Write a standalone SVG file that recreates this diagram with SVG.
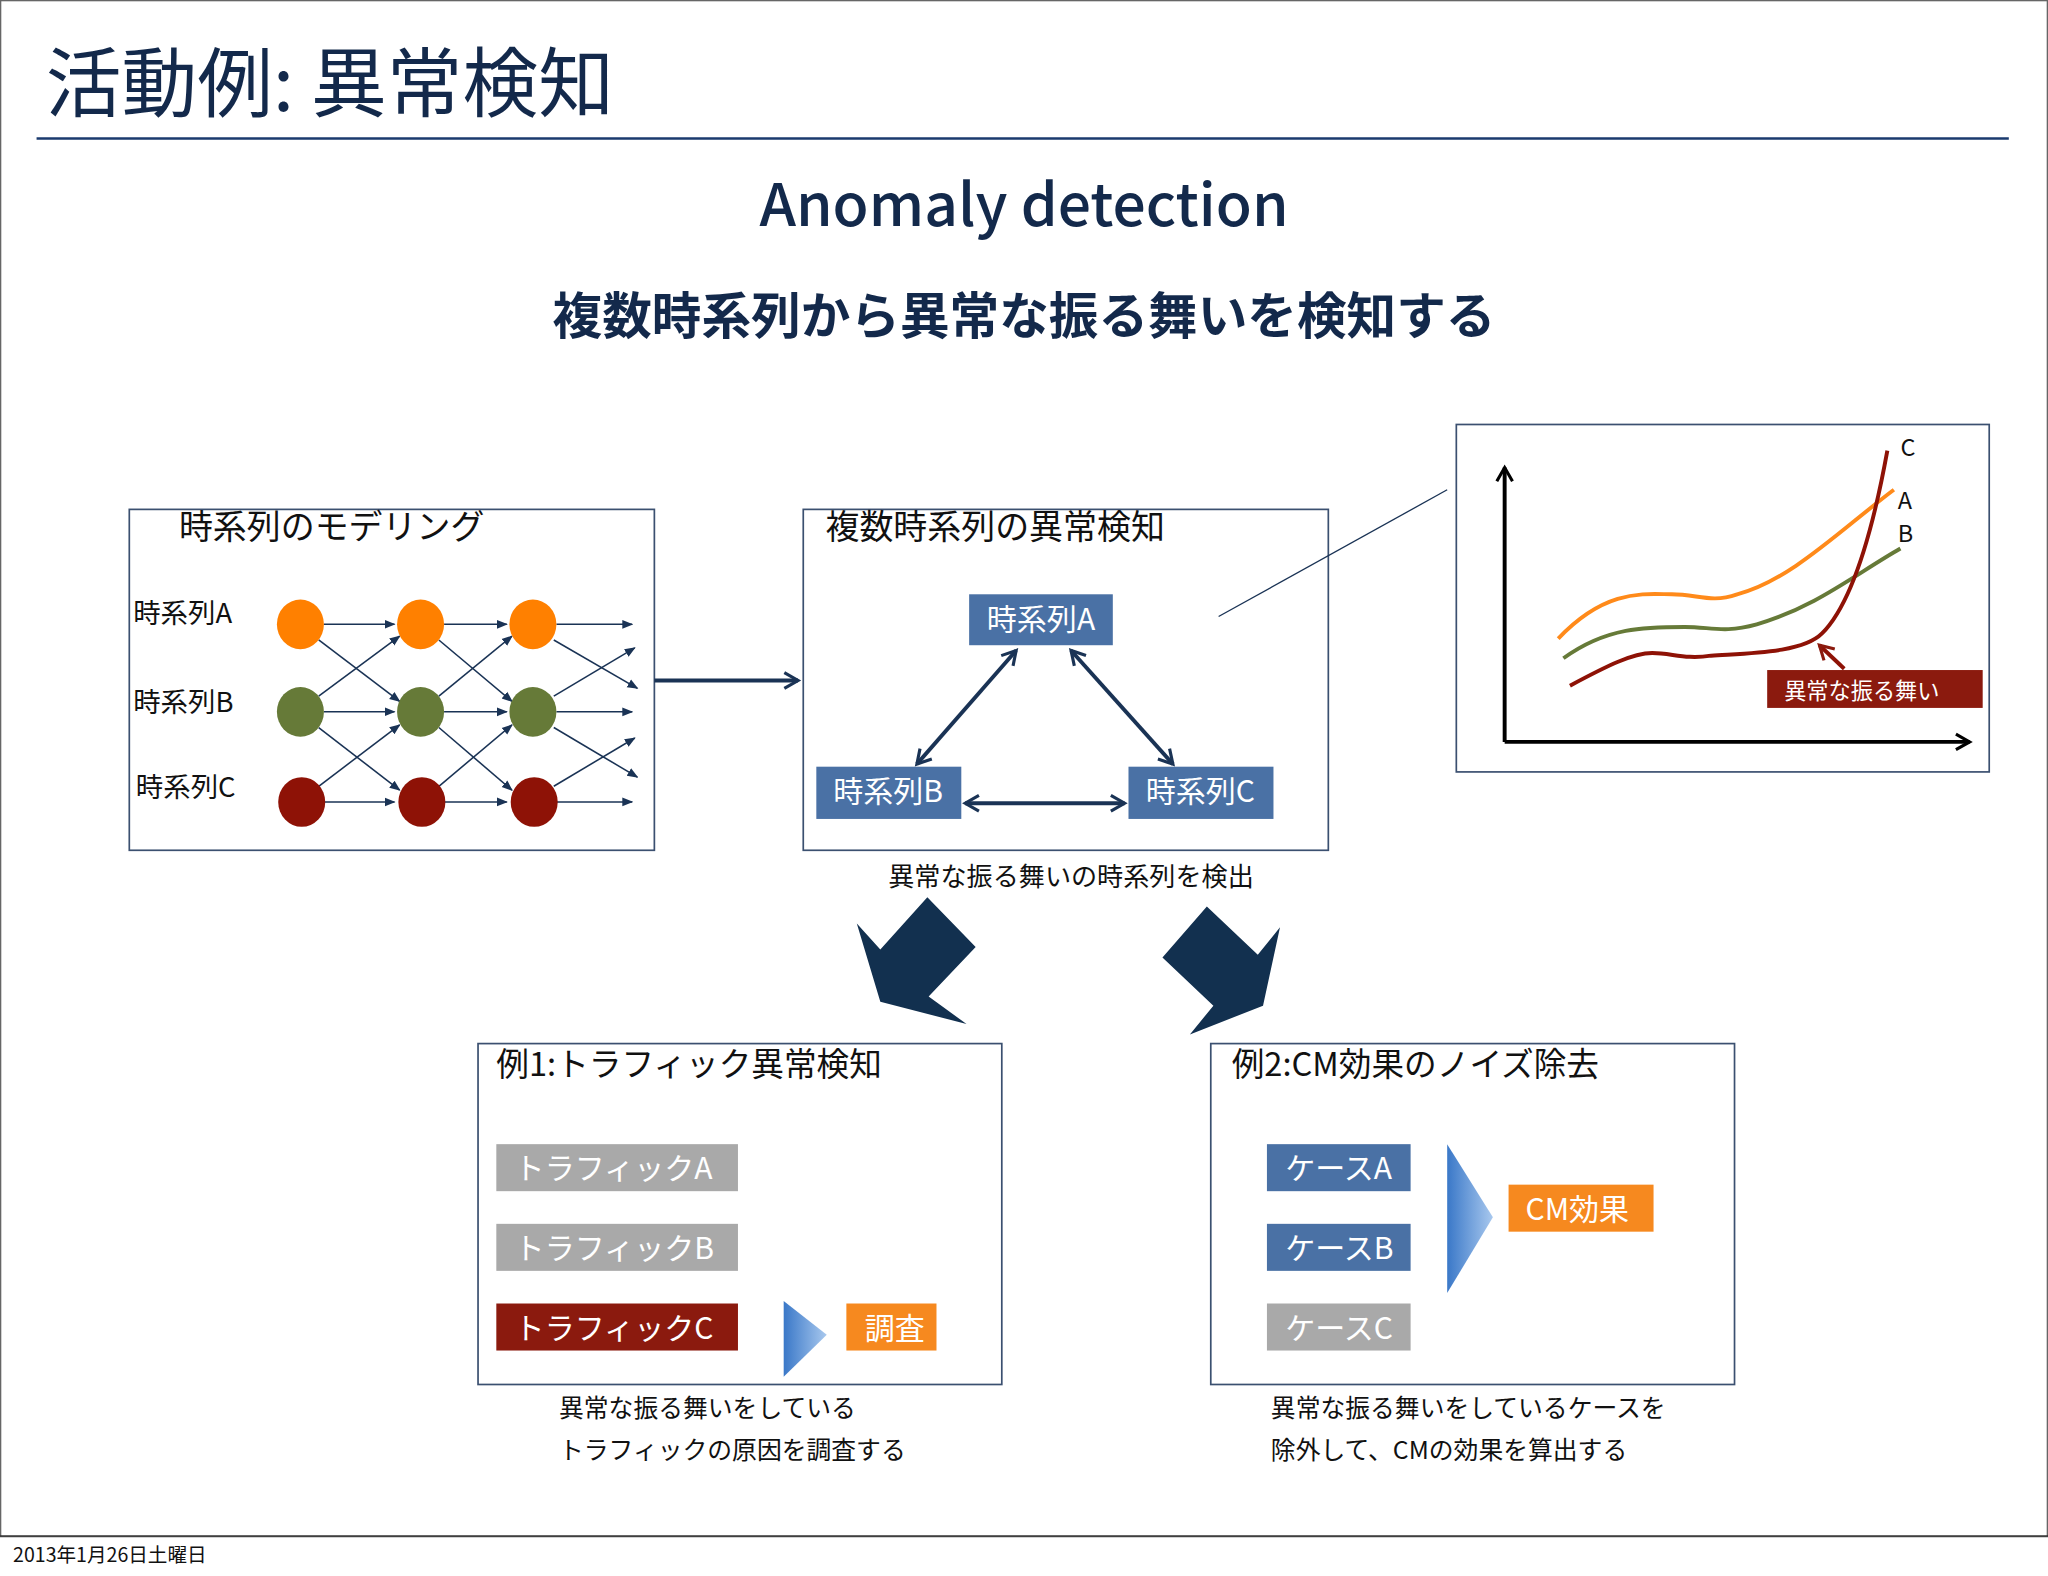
<svg xmlns="http://www.w3.org/2000/svg" width="2048" height="1576" viewBox="0 0 2048 1576">
<defs>
<style>
text{font-family:"Noto Sans CJK JP","Noto Sans",sans-serif}
.box{fill:#fff;stroke:#3b5070;stroke-width:1.3}
.lbl{font-size:21px;fill:#111}
.nd{fill:#4a71a5}
.nt{font-size:23px;fill:#fff;text-anchor:middle}
.ln{stroke:#1a3355;stroke-width:1.2;fill:none}
.big{stroke:#1a3355;stroke-width:3;fill:none}
.bt{font-size:23px;fill:#fff}
</style>
<marker id="sa" viewBox="0 0 10 10" refX="9" refY="5" markerWidth="7" markerHeight="7" orient="auto-start-reverse"><path d="M0,1 L10,5 L0,9z" fill="#1a3355"/></marker>
<marker id="ba" viewBox="0 0 10 10" refX="8" refY="5" markerWidth="5" markerHeight="5" orient="auto-start-reverse"><path d="M1,1 L8,5 L1,9" fill="none" stroke="#1a3355" stroke-width="1.6"/></marker>
<marker id="ka" viewBox="0 0 10 10" refX="8" refY="5" markerWidth="5" markerHeight="5" orient="auto"><path d="M1,1 L8,5 L1,9" fill="none" stroke="#000" stroke-width="1.6"/></marker>
<marker id="ra" viewBox="0 0 10 10" refX="8" refY="5" markerWidth="5" markerHeight="5" orient="auto"><path d="M1,1 L8,5 L1,9" fill="none" stroke="#8b1a0e" stroke-width="1.6"/></marker>
<linearGradient id="tg" x1="0" y1="0" x2="1" y2="0"><stop offset="0" stop-color="#3a78c8"/><stop offset="1" stop-color="#a8c8ee"/></linearGradient>
</defs>
<rect width="2048" height="1576" fill="#fff"/>
<g transform="scale(1.30612)">
<rect x="0.5" y="0.5" width="1567" height="1176" fill="none" stroke="#666" stroke-width="1"/>
<g id="title">
<text x="35" y="85" font-size="58" fill="#13294b">活動例: 異常検知</text>
<line x1="28" y1="106" x2="1538" y2="106" stroke="#1a3a6e" stroke-width="2"/>
<text x="784" y="173" font-size="45" fill="#13294b" text-anchor="middle" font-family="Noto Sans,sans-serif" font-weight="500">Anomaly detection</text>
<text x="784" y="256" font-size="38" fill="#13294b" text-anchor="middle" font-weight="bold">複数時系列から異常な振る舞いを検知する</text>
</g>
<g id="box1">
<rect class="box" x="99" y="390" width="402" height="261"/>
<text x="137" y="413" font-size="26" fill="#111">時系列のモデリング</text>
<text class="lbl" x="102" y="477">時系列A</text>
<text class="lbl" x="102" y="545">時系列B</text>
<text class="lbl" x="104" y="610">時系列C</text>
<g class="ln" marker-end="url(#sa)">
<line x1="248" y1="478" x2="302" y2="478"/><line x1="340" y1="478" x2="388" y2="478"/><line x1="426" y1="478" x2="484" y2="478"/>
<line x1="248" y1="545" x2="302" y2="545"/><line x1="340" y1="545" x2="388" y2="545"/><line x1="426" y1="545" x2="484" y2="545"/>
<line x1="248" y1="614" x2="302" y2="614"/><line x1="340" y1="614" x2="388" y2="614"/><line x1="426" y1="614" x2="484" y2="614"/>
<line x1="244" y1="490" x2="306" y2="537"/><line x1="336" y1="490" x2="392" y2="537"/><line x1="424" y1="490" x2="488" y2="527"/>
<line x1="244" y1="533" x2="306" y2="487"/><line x1="336" y1="533" x2="392" y2="487"/><line x1="424" y1="533" x2="486" y2="496"/>
<line x1="244" y1="557" x2="306" y2="605"/><line x1="336" y1="557" x2="392" y2="605"/><line x1="424" y1="557" x2="488" y2="595"/>
<line x1="244" y1="602" x2="306" y2="555"/><line x1="336" y1="602" x2="392" y2="555"/><line x1="424" y1="602" x2="486" y2="565"/>
</g>
<g fill="#ff8000"><ellipse cx="230" cy="478" rx="18" ry="19"/><ellipse cx="322" cy="478" rx="18" ry="19"/><ellipse cx="408" cy="478" rx="18" ry="19"/></g>
<g fill="#667a38"><ellipse cx="230" cy="545" rx="18" ry="19"/><ellipse cx="322" cy="545" rx="18" ry="19"/><ellipse cx="408" cy="545" rx="18" ry="19"/></g>
<g fill="#8e1206"><ellipse cx="231" cy="614" rx="18" ry="19"/><ellipse cx="323" cy="614" rx="18" ry="19"/><ellipse cx="409" cy="614" rx="18" ry="19"/></g>
</g>
<g id="box2">
<rect class="box" x="615" y="390" width="402" height="261"/>
<text x="632" y="413" font-size="26" fill="#111">複数時系列の異常検知</text>
<rect class="nd" x="742" y="455" width="110" height="39"/><text class="nt" x="797" y="482">時系列A</text>
<rect class="nd" x="625" y="587" width="111" height="40"/><text class="nt" x="680" y="614">時系列B</text>
<rect class="nd" x="864" y="587" width="111" height="40"/><text class="nt" x="919" y="614">時系列C</text>
<text x="820" y="678" font-size="20" fill="#111" text-anchor="middle">異常な振る舞いの時系列を検出</text>
</g>
<g id="chart">
<rect class="box" x="1115" y="325" width="408" height="266"/>
<g stroke="#000" stroke-width="3" fill="none">
<line x1="1152" y1="568" x2="1152" y2="358" marker-end="url(#ka)"/>
<line x1="1152" y1="568" x2="1508" y2="568" marker-end="url(#ka)"/>
</g>
<g fill="none" stroke-width="3">
<path d="M1193,489 C1230,450 1260,455 1280,455 C1300,455 1310,462 1330,455 C1370,445 1410,405 1450,375" stroke="#ff8a1a"/>
<path d="M1197,504 C1230,480 1260,480 1290,480 C1310,480 1320,485 1345,478 C1390,465 1420,440 1455,420" stroke="#667a38"/>
<path d="M1202,525 C1230,510 1250,500 1265,500 C1280,500 1290,505 1310,502 C1340,500 1380,500 1395,485 C1420,460 1435,400 1445,345" stroke="#8e1206"/>
<line x1="1412" y1="512" x2="1393" y2="494" stroke="#8e1206" marker-end="url(#ra)"/>
</g>
<text x="1455" y="349" font-size="18" fill="#111">C</text>
<text x="1453" y="390" font-size="18" fill="#111">A</text>
<text x="1453" y="415" font-size="18" fill="#111">B</text>
<rect x="1353" y="513" width="165" height="29" fill="#8b1a0e"/>
<text x="1366" y="535" font-size="17" fill="#fff">異常な振る舞い</text>
</g>
<g id="box4">
<rect class="box" x="366" y="799" width="401" height="261"/>
<text x="380" y="824" font-size="25" fill="#111">例1:トラフィック異常検知</text>
<rect x="380" y="876" width="185" height="36" fill="#a9a9a9"/><text class="bt" x="394" y="903" fill="#eee">トラフィックA</text>
<rect x="380" y="937" width="185" height="36" fill="#a9a9a9"/><text class="bt" x="394" y="964" fill="#eee">トラフィックB</text>
<rect x="380" y="998" width="185" height="36" fill="#8b1a0e"/><text class="bt" x="394" y="1025">トラフィックC</text>
<path d="M600,996 L633,1022 L600,1054z" fill="url(#tg)"/>
<rect x="648" y="998" width="69" height="36" fill="#f6891f"/><text class="bt" x="662" y="1025">調査</text>
<text x="428" y="1085" font-size="19" fill="#111">異常な振る舞いをしている</text>
<text x="428" y="1117" font-size="19" fill="#111">トラフィックの原因を調査する</text>
</g>
<g id="box5">
<rect class="box" x="927" y="799" width="401" height="261"/>
<text x="943" y="824" font-size="25" fill="#111">例2:CM効果のノイズ除去</text>
<rect class="nd" x="970" y="876" width="110" height="36"/><text class="bt" x="984" y="903">ケースA</text>
<rect class="nd" x="970" y="937" width="110" height="36"/><text class="bt" x="984" y="964">ケースB</text>
<rect x="970" y="998" width="110" height="36" fill="#a9a9a9"/><text class="bt" x="984" y="1025" fill="#eee">ケースC</text>
<path d="M1108,876 L1143,932 L1108,990z" fill="url(#tg)"/>
<rect x="1155" y="907" width="111" height="36" fill="#f6891f"/><text class="bt" x="1168" y="934">CM効果</text>
<text x="973" y="1085" font-size="19" fill="#111">異常な振る舞いをしているケースを</text>
<text x="973" y="1117" font-size="19" fill="#111">除外して、CMの効果を算出する</text>
</g>
<g id="connectors">
<line class="big" x1="501" y1="521" x2="611" y2="521" marker-end="url(#ba)"/>
<line class="big" x1="778" y1="498" x2="702" y2="585" marker-start="url(#ba)" marker-end="url(#ba)"/>
<line class="big" x1="820" y1="498" x2="898" y2="585" marker-start="url(#ba)" marker-end="url(#ba)"/>
<line class="big" x1="739" y1="615" x2="861" y2="615" marker-start="url(#ba)" marker-end="url(#ba)"/>
<line x1="933" y1="472" x2="1108" y2="375" stroke="#1a3355" stroke-width="1"/>
<path d="M710,687 L747,725 L711,763 L740,784 L674,767 L656,707 L674,727z" fill="#12304f"/>
<path d="M924,694 L963,731 L980,710 L967,770 L911,792 L929,770 L890,733z" transform="translate(0,0)" fill="#12304f"/>
</g>
<g id="footer">
<line x1="0" y1="1176" x2="1568" y2="1176" stroke="#333" stroke-width="1"/>
<text x="10" y="1196" font-size="15" fill="#111">2013年1月26日土曜日</text>
</g>
</g>
</svg>
